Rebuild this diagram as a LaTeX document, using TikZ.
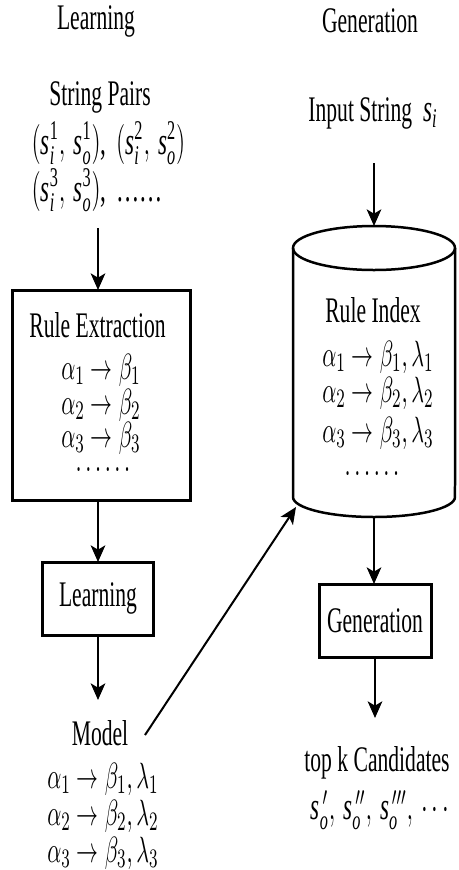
\documentclass[tikz,border=0pt]{standalone}
\usepackage{amsmath}
\usepackage{fontspec}
\setmainfont{Liberation Serif}
\usetikzlibrary{arrows.meta,calc}
\newcommand{\nw}[1]{\scalebox{0.6}[1]{#1}}
\tikzset{
 txt/.style={inner sep=0pt, font=\fontsize{10.8}{13}\selectfont},
 boxn/.style={draw, line width=0.9pt, outer sep=0pt, inner sep=0pt},
 arr/.style={line width=0.6pt, -{Stealth[length=5pt,width=4.4pt,inset=1.3pt]}},
 cyl/.style={line width=0.75pt},
}
\begin{document}
\begin{tikzpicture}[x=0.3pt,y=-0.3pt]
\useasboundingbox (0,0) rectangle (458,870);
% ---------------- left column ----------------
\node[txt] (tl) at (96,21) {\nw{Learning}};
\node[txt] (sp) at (100,97) {\nw{String Pairs}};
\node[txt,anchor=west] (sp1) at (31,143) {\nw{\fontsize{11.6}{13}\selectfont$(\textit{s}^{\textrm{1}}_{\textit{i}},\, \textit{s}^{\textrm{1}}_{\textit{o}})$, \,$(\textit{s}^{\textrm{2}}_{\textit{i}},\, \textit{s}^{\textrm{2}}_{\textit{o}})$}};
\node[txt,anchor=west] (sp2) at (31,190) {\nw{\fontsize{11.6}{13}\selectfont$(\textit{s}^{\textrm{3}}_{\textit{i}},\, \textit{s}^{\textrm{3}}_{\textit{o}})$, \,\ldots\ldots}};

\node[boxn, minimum width=53.7pt, minimum height=63pt] (re) at (101.5,395) {};
\node[txt] (ret) at (97.5,325) {\nw{Rule Extraction}};
\node[txt] (re1) at (101,370) {\nw{$\alpha_1 \rightarrow \beta_1$}};
\node[txt] (re2) at (101,405) {\nw{$\alpha_2 \rightarrow \beta_2$}};
\node[txt] (re3) at (101,438) {\nw{$\alpha_3 \rightarrow \beta_3$}};
\node[txt] (re4) at (103,470) {\nw{$\ldots\ldots$}};

\node[boxn, minimum width=33.6pt, minimum height=21.9pt] (lb) at (98,598.5) {};
\node[txt] (lbt) at (lb) {\nw{Learning}};

\node[txt] (model) at (100,733) {\nw{Model}};
\node[txt] (m1) at (103,779) {\nw{$\alpha_1 \rightarrow \beta_1, \lambda_1$}};
\node[txt] (m2) at (103,816) {\nw{$\alpha_2 \rightarrow \beta_2, \lambda_2$}};
\node[txt] (m3) at (103,853) {\nw{$\alpha_3 \rightarrow \beta_3, \lambda_3$}};

\coordinate (a1s) at (98,228);
\coordinate (mtop) at (98,700);
\draw[arr] (a1s) -- (a1s |- re.north);
\draw[arr] (re.south -| lb.north) -- (lb.north);
\draw[arr] (lb.south) -- (mtop);

% ---------------- right column ----------------
\node[txt] (tg) at (370,21) {\nw{Generation}};
\node[txt] (is) at (373,113) {\nw{Input String \ \fontsize{11.6}{13}\selectfont$\textit{s}_{\textit{i}}$}};

\node[minimum width=48.6pt, minimum height=87.3pt, inner sep=0pt, outer sep=0pt] (ri) at (374,371.5) {};
\draw[cyl] (374,248) ellipse [x radius=24.3pt, y radius=6.6pt];
\draw[cyl] (293,248) -- (293,497) arc[start angle=180, end angle=360, x radius=24.3pt, y radius=6pt] -- (455,248);
\node[txt] (rit) at (373,310) {\nw{Rule Index}};
\node[txt] (ri1) at (378,357) {\nw{$\alpha_1 \rightarrow \beta_1, \lambda_1$}};
\node[txt] (ri2) at (378,393) {\nw{$\alpha_2 \rightarrow \beta_2, \lambda_2$}};
\node[txt] (ri3) at (378,433) {\nw{$\alpha_3 \rightarrow \beta_3, \lambda_3$}};
\node[txt] (ri4) at (372,474) {\nw{$\ldots\ldots$}};

\node[boxn, minimum width=33.6pt, minimum height=21.9pt] (gb) at (375,620.5) {};
\node[txt] (gbt) at (gb) {\nw{Generation}};

\node[txt] (tk) at (377,763) {\nw{top k Candidates}};
\node[txt] (cand) at (382,810) {\nw{\fontsize{11.6}{13}\selectfont$\textit{s}^{\,\prime}_{\textit{o}},\, \textit{s}^{\,\prime\prime}_{\textit{o}},\, \textit{s}^{\,\prime\prime\prime}_{\textit{o}},\, \cdots$}};

\coordinate (is0) at (374,163);
\coordinate (ctop) at (375,718);
\draw[arr] (is0) -- (ri.north);
\draw[arr] (ri.south) -- (ri.south |- gb.north);
\draw[arr] (gb.south) -- (ctop);

% ---------------- model to index ----------------
\coordinate (dgs) at (145,735);
\coordinate (dge) at (296,507);
\draw[arr] (dgs) -- (dge);
\end{tikzpicture}
\end{document}
